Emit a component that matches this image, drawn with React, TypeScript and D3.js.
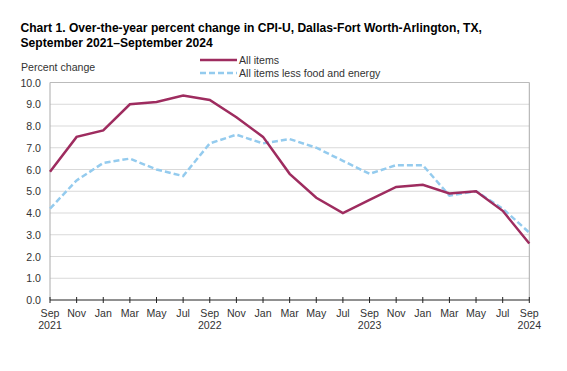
import React from 'react';
import * as d3 from 'd3';

const months = ['Sep', 'Nov', 'Jan', 'Mar', 'May', 'Jul', 'Sep', 'Nov', 'Jan', 'Mar', 'May', 'Jul', 'Sep', 'Nov', 'Jan', 'Mar', 'May', 'Jul', 'Sep'];
const years: Record<number, string> = { 0: '2021', 6: '2022', 12: '2023', 18: '2024' };
const allItems = [5.9, 7.5, 7.8, 9.0, 9.1, 9.4, 9.2, 8.4, 7.5, 5.8, 4.7, 4.0, 4.6, 5.2, 5.3, 4.9, 5.0, 4.1, 2.6];
const coreItems = [4.2, 5.5, 6.3, 6.5, 6.0, 5.7, 7.2, 7.6, 7.2, 7.4, 7.0, 6.4, 5.8, 6.2, 6.2, 4.8, 5.0, 4.2, 3.1];
const yTicks = d3.range(0, 10.01, 1);

const W = 567, H = 371;
const left = 50, right = 529.3, top = 82.5, bottom = 300;
const RED = '#9e2c5f';
const BLUE = '#94cbee';
const FONT = 'Arial, "Liberation Sans", sans-serif';
const LBL = 10.6;

export default function App() {
  const x = d3.scaleLinear().domain([0, months.length - 1]).range([left, right]);
  const y = d3.scaleLinear().domain([0, 10]).range([bottom, top]);
  const line = d3.line<number>().x((_, i) => x(i)).y(d => y(d));

  return (
    <svg width={W} height={H} style={{ position: 'absolute', left: 0, top: 0, background: '#fff' }} fontFamily={FONT}>
      <text x={20.5} y={32.3} fontSize={12.1} fontWeight="bold" fill="#000">Chart 1. Over-the-year percent change in CPI-U, Dallas-Fort Worth-Arlington, TX,</text>
      <text x={20.5} y={46.8} fontSize={12.1} fontWeight="bold" fill="#000">September 2021–September 2024</text>

      {/* legend */}
      <line x1={200} x2={237} y1={60} y2={60} stroke={RED} strokeWidth={2.5} />
      <text x={239} y={63.8} fontSize={LBL} fill="#333">All items</text>
      <line x1={200} x2={237} y1={73} y2={73} stroke={BLUE} strokeWidth={2.5} strokeDasharray="6,3" />
      <text x={239} y={76.8} fontSize={LBL} fill="#333">All items less food and energy</text>

      <text x={21} y={71} fontSize={LBL} fill="#333">Percent change</text>

      {/* grid */}
      {yTicks.map(t => (
        <g key={t}>
          {t > 0 && <line x1={left} x2={right} y1={y(t)} y2={y(t)} stroke="#d9d9d9" strokeWidth={1} />}
          <text x={41} y={y(t) + 4} fontSize={LBL} fill="#333" textAnchor="end">{t.toFixed(1)}</text>
        </g>
      ))}
      <line x1={left} x2={left} y1={top} y2={bottom} stroke="#aaa" />
      <line x1={right} x2={right} y1={top} y2={bottom} stroke="#aaa" />
      <line x1={left} x2={right} y1={top} y2={top} stroke="#bbb" />

      {/* lines */}
      <path d={line(coreItems) || ''} fill="none" stroke={BLUE} strokeWidth={2.5} strokeDasharray="6,3" />
      <path d={line(allItems) || ''} fill="none" stroke={RED} strokeWidth={2.5} />

      {/* x axis */}
      <line x1={left} x2={right} y1={bottom} y2={bottom} stroke="#222" />
      {months.map((m, i) => (
        <g key={i}>
          <line x1={x(i)} x2={x(i)} y1={bottom - 3} y2={bottom + 3} stroke="#222" />
          <text x={x(i)} y={317} fontSize={LBL} fill="#333" textAnchor="middle">{m}</text>
          {years[i] && <text x={x(i)} y={329} fontSize={LBL} fill="#333" textAnchor="middle">{years[i]}</text>}
        </g>
      ))}
    </svg>
  );
}
